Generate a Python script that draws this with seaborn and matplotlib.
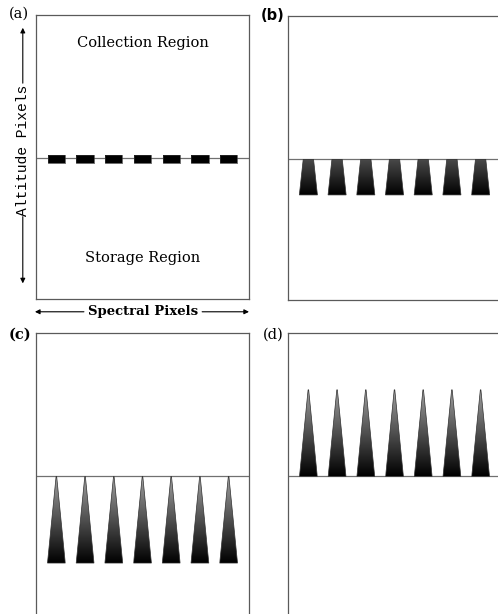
import numpy as np
import matplotlib
matplotlib.use('Agg')
import matplotlib.pyplot as plt
from matplotlib.patches import Polygon
from matplotlib.colors import LinearSegmentedColormap
import seaborn as sns

# CCD charge-shift sketch: 7 spectral columns, altitude measured from the
# collection/storage boundary (0 = boundary, +1 top of collection region)
PANEL_LABELS = ['(a)', '(b)', '(c)', '(d)']
SPECTRAL_COLS = [0, 1, 2, 3, 4, 5, 6]
PACKET_TOP = [0.025, 0.0, 0.0, 0.61]
PACKET_BOTTOM = [-0.03, -0.25, -0.61, 0.0]
PACKET_TOP_WIDTH = [0.6, 0.36, 0.02, 0.02]
PACKET_BOTTOM_WIDTH = [0.6, 0.63, 0.62, 0.62]
PACKET_TOP_SHADE = ['#000000', '#4a4a4a', '#a0a0a0', '#a0a0a0']
REGION_NAMES = ['Collection Region', 'Storage Region']
AXIS_NAMES = ['Altitude Pixels', 'Spectral Pixels']

W, H = 498, 614
BOX_W, BOX_H = 213, 284
# (left, top) of each panel box in pixels
BOX_POS = [(36, 15), (288, 16), (36, 333), (288, 333)]
LABEL_POS = [(19, 14), (273, 15), (20, 335), (273, 335)]
LABEL_FONT = [dict(family='DejaVu Serif'),
              dict(family='DejaVu Sans', weight='bold'),
              dict(family='DejaVu Serif', weight='bold'),
              dict(family='DejaVu Serif')]

sns.set_theme(style='white')
plt.rcParams['font.family'] = ['DejaVu Serif']
plt.rcParams['text.color'] = 'black'

fig = plt.figure(figsize=(W / 100, H / 100), dpi=100)
fig.patch.set_facecolor('white')

gradient = np.linspace(0, 1, 256).reshape(-1, 1)

for i, lab in enumerate(PANEL_LABELS):
    left, top = BOX_POS[i]
    ax = fig.add_axes([left / W, (H - top - BOX_H) / H, BOX_W / W, BOX_H / H])
    ax.set_xticks([])
    ax.set_yticks([])
    for s in ax.spines.values():
        s.set_color('#5a5a5a')
        s.set_linewidth(0.9)

    # boundary between collection and storage region
    sns.lineplot(x=[-0.71, 6.71], y=[0, 0], ax=ax, color='#707070', lw=0.9)

    cmap = LinearSegmentedColormap.from_list('shade', ['#000000', PACKET_TOP_SHADE[i]])
    y0, y1 = PACKET_BOTTOM[i], PACKET_TOP[i]
    tw, bw = PACKET_TOP_WIDTH[i], PACKET_BOTTOM_WIDTH[i]
    for c in SPECTRAL_COLS:
        verts = [(c - bw / 2, y0), (c + bw / 2, y0), (c + tw / 2, y1), (c - tw / 2, y1)]
        poly = Polygon(verts, closed=True, facecolor='none', edgecolor='#303030', lw=0.5,
                       zorder=4)
        ax.add_patch(poly)
        img = ax.imshow(gradient, cmap=cmap, vmin=0, vmax=1, origin='lower',
                        extent=[c - bw / 2, c + bw / 2, y0, y1], aspect='auto',
                        interpolation='bilinear', zorder=3)
        img.set_clip_path(poly)

    ax.set_xlim(-0.71, 6.71)
    ax.set_ylim(-0.99, 1.01)

    fig.text(LABEL_POS[i][0] / W, 1 - LABEL_POS[i][1] / H, lab, ha='center', va='center',
             fontsize=10.5, **LABEL_FONT[i])

    if i == 0:
        ax.text(0.5, 0.9, REGION_NAMES[0], transform=ax.transAxes, ha='center', va='center',
                fontsize=10.5)
        ax.text(0.5, 0.145, REGION_NAMES[1], transform=ax.transAxes, ha='center', va='center',
                fontsize=10.5)
        # altitude axis label with arrows
        ax.text(-0.062, 0.525, AXIS_NAMES[0], transform=ax.transAxes, rotation=90,
                ha='center', va='center', fontsize=10.5, family='Liberation Mono')
        arrow = dict(arrowstyle='-|>', lw=0.8, color='black', mutation_scale=7,
                     shrinkA=0, shrinkB=0)
        ax.annotate('', xy=(-0.062, 0.955), xytext=(-0.062, 0.76),
                    xycoords='axes fraction', textcoords='axes fraction', arrowprops=arrow,
                    annotation_clip=False)
        ax.annotate('', xy=(-0.062, 0.055), xytext=(-0.062, 0.29),
                    xycoords='axes fraction', textcoords='axes fraction', arrowprops=arrow,
                    annotation_clip=False)
        # spectral axis label with arrows
        ax.text(0.502, -0.045, AXIS_NAMES[1], transform=ax.transAxes, ha='center',
                va='center', fontsize=9.5, weight='bold')
        ax.annotate('', xy=(-0.005, -0.045), xytext=(0.225, -0.045),
                    xycoords='axes fraction', textcoords='axes fraction', arrowprops=arrow,
                    annotation_clip=False)
        ax.annotate('', xy=(1.0, -0.045), xytext=(0.78, -0.045),
                    xycoords='axes fraction', textcoords='axes fraction', arrowprops=arrow,
                    annotation_clip=False)

fig.savefig('out.png', dpi=100, facecolor='white')
